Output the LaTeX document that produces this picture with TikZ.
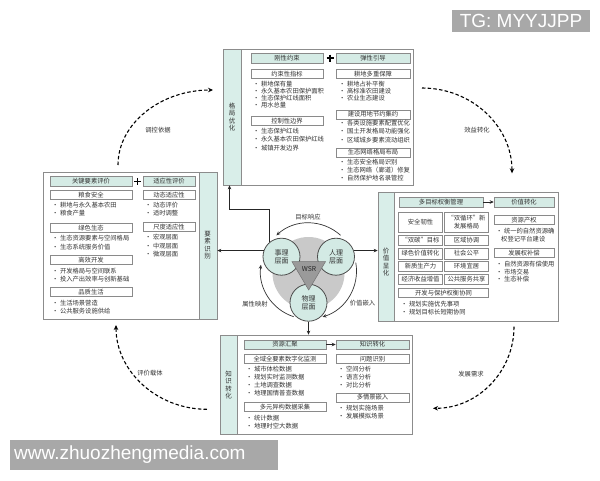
\documentclass[tikz,border=0pt]{standalone}
\usepackage{fontspec}
\setmainfont{Noto Sans CJK SC}
\newfontfamily\wmfont{Liberation Sans}
\usetikzlibrary{arrows.meta}
\definecolor{tealL}{HTML}{D9EEE9}
\definecolor{tealH}{HTML}{D5EBE5}
\definecolor{tealC}{HTML}{D3EAE4}
\definecolor{frameC}{HTML}{8C8C8C}
\definecolor{boxC}{HTML}{8A8A8A}
\definecolor{txt}{HTML}{333333}
\definecolor{blobC}{HTML}{C9C9C9}
\definecolor{triC}{HTML}{9A9A9A}
\definecolor{wmC}{HTML}{A8A8A8}
\newcommand\fsz{\fontsize{6.3}{7.3}\selectfont}
\newcommand\fsv{\fontsize{6.5}{7.5}\selectfont}
\newcommand\fsc{\fontsize{7}{8.2}\selectfont}
\newcommand\bitem[4]{\node[bulnode] (#1) at (#2,#3) {•\hspace{1.5pt}#4};}
\begin{document}
\begin{tikzpicture}[x=1pt,y=-1pt,
  framebox/.style={draw=frameC, line width=0.7pt, inner sep=0pt},
  stripbox/.style={draw=frameC, fill=tealL, line width=0.6pt},
  hdrbox/.style={draw=boxC, fill=tealH, line width=0.5pt, minimum height=9.5pt, inner sep=0pt, font=\fsz, text=txt},
  subbox/.style={draw=boxC, fill=white, line width=0.5pt, minimum height=9pt, inner sep=0pt, font=\fsz, text=txt},
  cellbox/.style={subbox, minimum width=44pt, minimum height=10.5pt, align=center},
  bulnode/.style={anchor=west, inner sep=0pt, font=\fsz, text=txt},
  vtext/.style={align=center, font=\fsv, inner sep=0pt, text=txt},
  plusmark/.style={draw=black, line width=1.6pt},
  connarr/.style={draw=black!85, line width=0.7pt, -{Stealth[length=4pt,width=3.5pt]}},
  dasharr/.style={draw=black, line width=1.1pt, dash pattern=on 3.5pt off 2.2pt, -{Stealth[length=5pt,width=4.5pt]}},
  ringarr/.style={draw=black!80, line width=0.7pt, -{Stealth[length=4pt,width=3.5pt]}},
  circnode/.style={circle, draw=black!70, fill=tealC, line width=0.8pt, minimum size=37pt, inner sep=0pt, align=center, font=\fsc, text=txt},
  lblnode/.style={font=\fsz, text=txt, inner sep=0pt}
]
\useasboundingbox (0,0) rectangle (600,480);
\fill[white] (0,0) rectangle (600,480);

% ---------- top box ----------
\node[framebox, minimum width=190pt, minimum height=136pt] (T) at (318,117) {};
\draw[stripbox] (223,49) rectangle (241,185);
\node[vtext] (Tv) at (232,117) {格\\局\\优\\化};
\node[hdrbox, minimum width=72pt] (T1) at (287,58) {刚性约束};
\draw[plusmark] (326.5,58) -- (333.5,58) (330,54.5) -- (330,61.5);
\node[hdrbox, minimum width=74pt] (T2) at (373,58) {弹性引导};
\node[subbox, minimum width=72pt] (T1a) at (287,74) {约束性指标};
\bitem{t11}{253}{84}{耕地保有量}
\bitem{t12}{253}{91}{永久基本农田保护面积}
\bitem{t13}{253}{98}{生态保护红线面积}
\bitem{t14}{253}{105}{用水总量}
\node[subbox, minimum width=72pt] (T1b) at (287,121) {控制性边界};
\bitem{t15}{253}{131}{生态保护红线}
\bitem{t16}{253}{139.5}{永久基本农田保护红线}
\bitem{t17}{253}{148}{城镇开发边界}
\node[subbox, minimum width=74pt] (T2a) at (373,74) {耕地多重保障};
\bitem{t21}{339}{84}{耕地占补平衡}
\bitem{t22}{339}{91}{高标准农田建设}
\bitem{t23}{339}{98}{农业生态建设}
\node[subbox, minimum width=74pt] (T2b) at (373,114.5) {建设用地节约集约};
\bitem{t24}{339}{123}{各类设施要素配置优化}
\bitem{t25}{339}{131.5}{国土开发格局功能强化}
\bitem{t26}{339}{140}{区域城乡要素流动组织}
\node[subbox, minimum width=74pt] (T2c) at (373,152.5) {生态网络格局布局};
\bitem{t27}{339}{162.5}{生态安全格局识别}
\bitem{t28}{339}{170.5}{生态网络（廊道）修复}
\bitem{t29}{339}{178.5}{自然保护地名录管控}

% ---------- left box ----------
\node[framebox, minimum width=174pt, minimum height=147pt] (L) at (130,245.5) {};
\draw[stripbox] (199,172) rectangle (217,319);
\node[vtext] (Lv) at (207.5,245) {要\\素\\识\\别};
\node[hdrbox, minimum width=82pt] (L1) at (91,181.3) {关键要素评价};
\draw[plusmark] (134,181.3) -- (141,181.3) (137.5,177.8) -- (137.5,184.8);
\node[hdrbox, minimum width=52pt] (L2) at (169,181.3) {适应性评价};
\node[subbox, minimum width=82pt] (L1a) at (91,194.7) {粮食安全};
\bitem{l11}{52}{205}{耕地与永久基本农田}
\bitem{l12}{52}{213.3}{粮食产量}
\node[subbox, minimum width=82pt] (L1b) at (91,228) {绿色生态};
\bitem{l13}{52}{238.3}{生态资源要素与空间格局}
\bitem{l14}{52}{246.7}{生态系统服务价值}
\node[subbox, minimum width=82pt] (L1c) at (91,260.2) {高效开发};
\bitem{l15}{52}{270.7}{开发格局与空间联系}
\bitem{l16}{52}{278.7}{投入产出效率与创新基础}
\node[subbox, minimum width=82pt] (L1d) at (91,292.2) {品质生活};
\bitem{l17}{52}{302.7}{生活场景营造}
\bitem{l18}{52}{310.7}{公共服务设施供给}
\node[subbox, minimum width=52pt] (L2a) at (169,194.7) {动态适应性};
\bitem{l21}{145}{205}{动态评价}
\bitem{l22}{145}{213.3}{适时调整}
\node[subbox, minimum width=52pt] (L2b) at (169,226.7) {尺度适应性};
\bitem{l23}{145}{237.3}{宏观层面}
\bitem{l24}{145}{245.7}{中观层面}
\bitem{l25}{145}{254}{微观层面}

% ---------- right box ----------
\node[framebox, minimum width=180pt, minimum height=129pt] (R) at (468,256.5) {};
\draw[stripbox] (378,192) rectangle (394,321);
\node[vtext] (Rv) at (386,262) {价\\值\\显\\化};
\node[hdrbox, minimum width=84pt] (R1) at (441,202) {多目标权衡管理};
\node[hdrbox, minimum width=60pt] (R2) at (524,202) {价值转化};
\draw[connarr] (R1) -- (R2);
\node[cellbox, minimum height=20pt] (c11) at (420.5,222) {安全韧性};
\node[cellbox, minimum height=20pt] (c12) at (466.5,222) {“双循环”新\\发展格局};
\node[cellbox] (c21) at (420.5,240) {“双碳”目标};
\node[cellbox] (c22) at (466.5,240) {区域协调};
\node[cellbox] (c31) at (420.5,253.5) {绿色价值转化};
\node[cellbox] (c32) at (466.5,253.5) {社会公平};
\node[cellbox] (c41) at (420.5,266.3) {新质生产力};
\node[cellbox] (c42) at (466.5,266.3) {环境宜居};
\node[cellbox] (c51) at (420.5,279.2) {经济收益增值};
\node[cellbox] (c52) at (466.5,279.2) {公共服务共享};
\node[subbox, minimum width=90pt] (R1a) at (443.5,293) {开发与保护权衡协同};
\bitem{r11}{401}{304.5}{规划实施优先事项}
\bitem{r12}{401}{312.5}{规划目标长短期协同}
\node[subbox, minimum width=60pt] (R2a) at (524,220) {资源产权};
\bitem{r21}{496}{231}{统一的自然资源确}
\node[bulnode] (r21b) at (501,239.3) {权登记平台建设};
\node[subbox, minimum width=60pt] (R2b) at (524,252.8) {发展权补偿};
\bitem{r22}{496}{263.7}{自然资源有偿使用}
\bitem{r23}{496}{271.7}{市场交易}
\bitem{r24}{496}{279.3}{生态补偿}

% ---------- bottom box ----------
\node[framebox, minimum width=192pt, minimum height=99pt] (B) at (316,384.5) {};
\draw[stripbox] (220,335) rectangle (237.5,434);
\node[vtext] (Bv) at (228.7,385) {知\\识\\转\\化};
\node[hdrbox, minimum width=82pt] (B1) at (285,344.5) {资源汇聚};
\node[hdrbox, minimum width=73pt] (B2) at (372.5,344.5) {知识转化};
\draw[connarr] (B1) -- (B2);
\node[subbox, minimum width=82pt] (B1a) at (285,358.7) {全域全要素数字化监测};
\bitem{b11}{246}{369.3}{城市体检数据}
\bitem{b12}{246}{377.3}{规划实时监测数据}
\bitem{b13}{246}{385.3}{土地调查数据}
\bitem{b14}{246}{393.3}{地理国情普查数据}
\node[subbox, minimum width=82pt] (B1b) at (285,407) {多元异构数据采集};
\bitem{b15}{246}{417.7}{统计数据}
\bitem{b16}{246}{425.7}{地理时空大数据}
\node[subbox, minimum width=73pt] (B2a) at (372.5,358.7) {问题识别};
\bitem{b21}{338}{369.3}{空间分析}
\bitem{b22}{338}{377.3}{语言分析}
\bitem{b23}{338}{385.3}{对比分析}
\node[subbox, minimum width=73pt] (B2b) at (372.5,397.3) {多情景嵌入};
\bitem{b24}{338}{408.3}{规划实施场景}
\bitem{b25}{338}{416.3}{发展模拟场景}

% ---------- centre WSR ----------
\node[circle, fill=blobC, minimum size=72pt, inner sep=0pt] (blob) at (308.5,273) {};
\node[circnode] (shi) at (281.5,256.7) {事理\\层面};
\node[circnode] (ren) at (336,256.7) {人理\\层面};
\node[circnode] (wu) at (308.5,302.7) {物理\\层面};
\filldraw[fill=triC, draw=black!55, line width=0.5pt] (292,261.7) -- (325.5,261.7) -- (308.7,290) -- cycle;
\node[font=\fontsize{6.8}{7}\selectfont, text=black!85, inner sep=0pt] (wsr) at (309,269.3) {WSR};

\draw[ringarr] (340.6,235.3) .. controls (322.3,218.8) and (294.7,218.8) .. (276.4,235.3);
\draw[ringarr] (293.7,316.7) .. controls (271.7,309.6) and (257.9,287.7) .. (260.9,264.8);
\draw[ringarr] (355.8,262.7) .. controls (360,286.6) and (345.7,309.8) .. (322.5,316.9);
\node[lblnode] (g1) at (308,216.7) {目标响应};
\node[lblnode] (g2) at (255,304) {属性映射};
\node[lblnode] (g3) at (362.5,302.7) {价值嵌入};

% connectors from centre
\coordinate (tk) at (229.5,209.3);
\draw[connarr] (shi.130) |- (tk) -- (tk |- T.south);
\draw[connarr] (shi.161) -- (shi.161 -| L.east);
\draw[connarr] (ren.19) -- (ren.19 -| R.west);
\draw[connarr] (wu.south) -- (wu.south |- B.north);

% ---------- dashed cycle ----------
\coordinate (d1s) at (118,165);
\coordinate (d1e) at (213,90);
\draw[dasharr] (d1s) .. controls (118,123.6) and (160.6,90) .. (d1e);
\coordinate (d2s) at (422,88);
\coordinate (d2e) at (512,173.3);
\draw[dasharr] (d2s) .. controls (471.7,88) and (512,126) .. (d2e);
\coordinate (d3s) at (514,326.7);
\coordinate (d3e) at (433,408.3);
\draw[dasharr] (d3s) .. controls (514,371.7) and (477.7,408.3) .. (d3e);
\coordinate (d4s) at (207,409.3);
\coordinate (d4e) at (116,325);
\draw[dasharr] (d4s) .. controls (156.8,409.3) and (116,371) .. (d4e);
\node[lblnode] (k1) at (158,130) {调控依据};
\node[lblnode] (k2) at (477,130) {效益转化};
\node[lblnode] (k3) at (471,374) {发展需求};
\node[lblnode] (k4) at (150,373.3) {评价载体};

% ---------- watermarks ----------
\node[fill=wmC, text=white, font=\wmfont\fontsize{19}{19}\selectfont, minimum width=138pt, minimum height=22pt, inner sep=0pt] (wm1) at (521,21) {TG: MYYJJPP};
\fill[wmC] (10,440) rectangle (278,470);
\node[anchor=west, text=white, font=\wmfont\fontsize{19}{19}\selectfont, inner sep=0pt] (wm2) at (14,455) {www.zhuozhengmedia.com};
\end{tikzpicture}
\end{document}
